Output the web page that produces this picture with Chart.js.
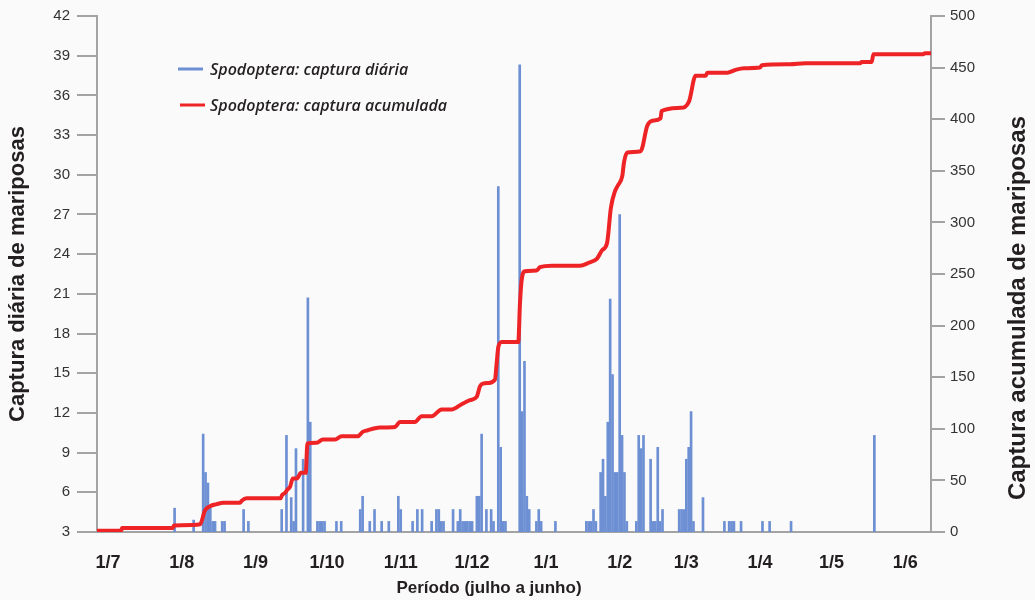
<!DOCTYPE html>
<html>
<head>
<meta charset="utf-8">
<script src="https://cdn.jsdelivr.net/npm/chart.js@4.4.1/dist/chart.umd.min.js"></script>
<style>
  html, body { margin: 0; padding: 0; background: #fafafa; }
  #wrap { width: 1035px; height: 600px; }
</style>
</head>
<body>
<div id="wrap"><canvas id="myChart"></canvas></div>
<script>
// month ticks (day index counted from 1 July)
const monthDays = [0, 31, 62, 92, 123, 153, 184, 215, 243, 274, 304, 335];
const monthLabels = ["1/7", "1/8", "1/9", "1/10", "1/11", "1/12", "1/1", "1/2", "1/3", "1/4", "1/5", "1/6"];

// daily capture (bars, left axis)
const dailyDays = [
  28, 36, 40, 41, 42, 43, 44, 45, 48, 49, 57, 59,
  73, 75, 77, 78, 79, 82, 84, 85, 88, 89, 90, 91, 96, 98,
  106, 107, 110, 112, 115, 118, 122, 123, 128, 130, 132, 136, 138, 139, 140, 141,
  145, 147, 148, 149, 150, 151, 152, 153, 155, 156, 157, 159, 161, 162, 164, 165, 166, 167,
  173, 174, 175, 176, 177, 180, 181, 182, 188,
  201, 202, 203, 204, 205, 207, 208, 209, 210, 211, 212, 213, 214, 215, 216, 217, 218,
  222, 223, 224, 225, 228, 229, 230, 231, 232, 233, 240, 241, 242, 243, 244, 245, 246, 250,
  259, 261, 262, 263, 266, 275, 278, 287, 322
];
const dailyValues = [
  4.8, 3.9, 10.4, 7.5, 6.7, 5.0, 3.8, 3.8, 3.8, 3.8, 4.7, 3.8,
  4.7, 10.3, 5.6, 3.8, 9.3, 8.5, 20.7, 11.3, 3.8, 3.8, 3.8, 3.8, 3.8, 3.8,
  4.7, 5.7, 3.8, 4.7, 3.8, 3.8, 5.7, 4.7, 3.8, 4.7, 4.7, 3.8, 4.7, 4.7, 3.8, 3.8,
  4.7, 3.8, 4.7, 3.8, 3.8, 3.8, 3.8, 3.8, 5.7, 5.7, 10.4, 4.7, 4.7, 3.8, 29.1, 9.4, 3.8, 3.8,
  38.3, 12.1, 15.9, 5.7, 4.7, 3.8, 4.7, 3.8, 3.8,
  3.8, 3.8, 3.8, 4.7, 3.8, 7.5, 8.5, 5.7, 11.3, 20.6, 14.9, 7.5, 7.5, 27.0, 10.3, 7.5, 3.8,
  3.8, 10.3, 9.3, 10.3, 8.5, 3.8, 3.8, 9.4, 3.8, 4.7, 4.7, 4.7, 4.7, 8.5, 9.4, 12.1, 3.8, 5.6,
  3.8, 3.8, 3.8, 3.8, 3.8, 3.8, 3.8, 3.8, 10.3
];

// cumulative capture (line, right axis)
const cumDays = [
  -4.6, 5.5, 5.9, 27.3, 27.7, 35.5, 38.7, 40.8, 42.9, 45.7, 48.5, 55.5, 56.2, 58.3,
  72.5, 73.2, 74.5, 75.2, 76.5, 77.7, 79.4, 81.1, 83.1, 83.8, 87.7, 90.3, 95.4, 98.2,
  105, 107, 109.2, 112.2, 114.3, 120.6, 122.7, 129, 131.8, 136, 140.2, 144.4, 148.6,
  152.1, 154.9, 156.3, 157.5, 159.8, 162.6, 163.3, 164, 165.4, 172.4, 173.1, 173.8,
  175.2, 180.1, 181.5, 186.5, 198.3, 202.1, 205.5, 207.6, 209.7, 211.3, 213, 214.3,
  216.1, 216.8, 218.2, 223.8, 226.6, 228.7, 232.2, 232.6, 240.6, 244.1, 246.9, 251.1,
  251.8, 260.2, 263.7, 267.2, 273.9, 274.7, 286.6, 292.9, 316, 316.7, 320.9, 321.6,
  342.5, 343.3, 345.8
];
const cumValues = [
  1.2, 1.2, 3.8, 3.8, 6.2, 6.8, 7.5, 21, 25, 27, 28.3, 28.3, 30.3, 32.6,
  32.6, 35.8, 38, 40.6, 43.8, 51.9, 51.9, 57.4, 57.4, 85.8, 86.4, 89.6, 89.6, 92.8,
  92.8, 97, 98.6, 100.6, 101.3, 101.8, 106.7, 106.7, 112.2, 112.2, 118.7, 118.7, 123.8,
  127.7, 130.9, 141, 143.8, 144.4, 147.7, 163, 179, 184, 184, 221, 243.7,
  252.7, 253.4, 256.6, 258, 258, 261, 265, 273, 280, 314, 330, 336,
  345, 358, 367.8, 369, 393.6, 398.5, 401, 408, 411, 417, 442, 442,
  445, 445, 447.8, 449.4, 450, 452.3, 453.3, 454.3, 454.3, 455.5, 455.5, 463,
  463, 464, 464
];

const blue = "#6d8fd3";
const red = "#ee2326";
const axisGrey = "#a3a3a3";
const textDark = "#231f20";

// axis titles + legend drawn by hand (right title reads bottom to top)
const extras = {
  id: "extras",
  afterDraw(chart) {
    const ctx = chart.ctx;
    const a = chart.chartArea;
    ctx.save();
    ctx.fillStyle = textDark;
    ctx.textAlign = "center";
    ctx.textBaseline = "middle";

    ctx.font = "bold 22px 'Liberation Sans', Arial, sans-serif";
    ctx.save();
    ctx.translate(18, (a.top + a.bottom) / 2);
    ctx.rotate(-Math.PI / 2);
    ctx.fillText("Captura diária de mariposas", 0, 0);
    ctx.restore();

    ctx.font = "bold 24px 'Liberation Sans', Arial, sans-serif";
    ctx.save();
    ctx.translate(1018, 308);
    ctx.rotate(-Math.PI / 2);
    ctx.fillText("Captura acumulada de mariposas", 0, 0);
    ctx.restore();

    ctx.font = "bold 17px 'Liberation Sans', Arial, sans-serif";
    ctx.fillText("Período (julho a junho)", 489, 588);

    // legend
    const items = [
      { color: blue, width: 3, text: "Spodoptera: captura diária", y: 69, x0: 178 },
      { color: red, width: 3, text: "Spodoptera: captura acumulada", y: 105, x0: 180 },
    ];
    ctx.textAlign = "left";
    ctx.font = "italic 600 16px 'Open Sans', sans-serif";
    items.forEach((it) => {
      ctx.strokeStyle = it.color;
      ctx.lineWidth = it.width;
      ctx.beginPath();
      ctx.moveTo(it.x0, it.y);
      ctx.lineTo(it.x0 + 25, it.y);
      ctx.stroke();
      ctx.fillText(it.text, 210, it.y + 1);
    });
    ctx.restore();
  },
};

var ctx = document.getElementById("myChart").getContext("2d");

var myChart = new Chart(ctx, {
  data: {
    datasets: [
      {
        type: "line",
        label: "Spodoptera: captura acumulada",
        data: cumDays.map((d, i) => ({ x: d, y: cumValues[i] })),
        yAxisID: "y1",
        borderColor: red,
        borderWidth: 4,
        pointRadius: 0,
        cubicInterpolationMode: "monotone",
        order: 0,
      },
      {
        type: "bar",
        label: "Spodoptera: captura diária",
        data: dailyDays.map((d, i) => ({ x: d, y: dailyValues[i] })),
        yAxisID: "y",
        backgroundColor: blue,
        barThickness: 2,
        grouped: false,
        order: 1,
      },
    ],
  },
  options: {
    responsive: true,
    maintainAspectRatio: false,
    animation: false,
    layout: { padding: { top: 15, left: 0, right: 0, bottom: 0 } },
    plugins: {
      legend: { display: false },
      tooltip: { enabled: false },
    },
    scales: {
      x: {
        type: "linear",
        offset: false,
        min: -4.6,
        max: 345.8,
        afterBuildTicks: (scale) => {
          scale.ticks = monthDays.map((v) => ({ value: v }));
        },
        afterFit: (scale) => { scale.height = 68; },
        grid: { display: false, drawTicks: false },
        border: { display: true, color: axisGrey, width: 2 },
        ticks: {
          autoSkip: false,
          maxRotation: 0,
          padding: 20,
          color: textDark,
          font: { family: "'Liberation Sans', Arial, sans-serif", size: 18, weight: "bold" },
          callback: (value, index) => monthLabels[index],
        },
      },
      y: {
        position: "left",
        min: 3,
        max: 42,
        afterFit: (scale) => { scale.width = 97; },
        grid: { drawOnChartArea: false, drawTicks: true, tickLength: 20, color: axisGrey, lineWidth: 2 },
        border: { display: true, color: axisGrey, width: 2 },
        ticks: {
          stepSize: 3,
          padding: 7,
          color: "#333333",
          font: { family: "'Liberation Sans', Arial, sans-serif", size: 15 },
        },
      },
      y1: {
        position: "right",
        min: 0,
        max: 500,
        afterFit: (scale) => { scale.width = 104; },
        grid: { drawOnChartArea: false, drawTicks: true, tickLength: 14, color: axisGrey, lineWidth: 2 },
        border: { display: true, color: axisGrey, width: 2 },
        ticks: {
          stepSize: 50,
          padding: 5,
          color: "#333333",
          font: { family: "'Liberation Sans', Arial, sans-serif", size: 15 },
        },
      },
    },
  },
  plugins: [extras],
});
</script>
</body>
</html>
